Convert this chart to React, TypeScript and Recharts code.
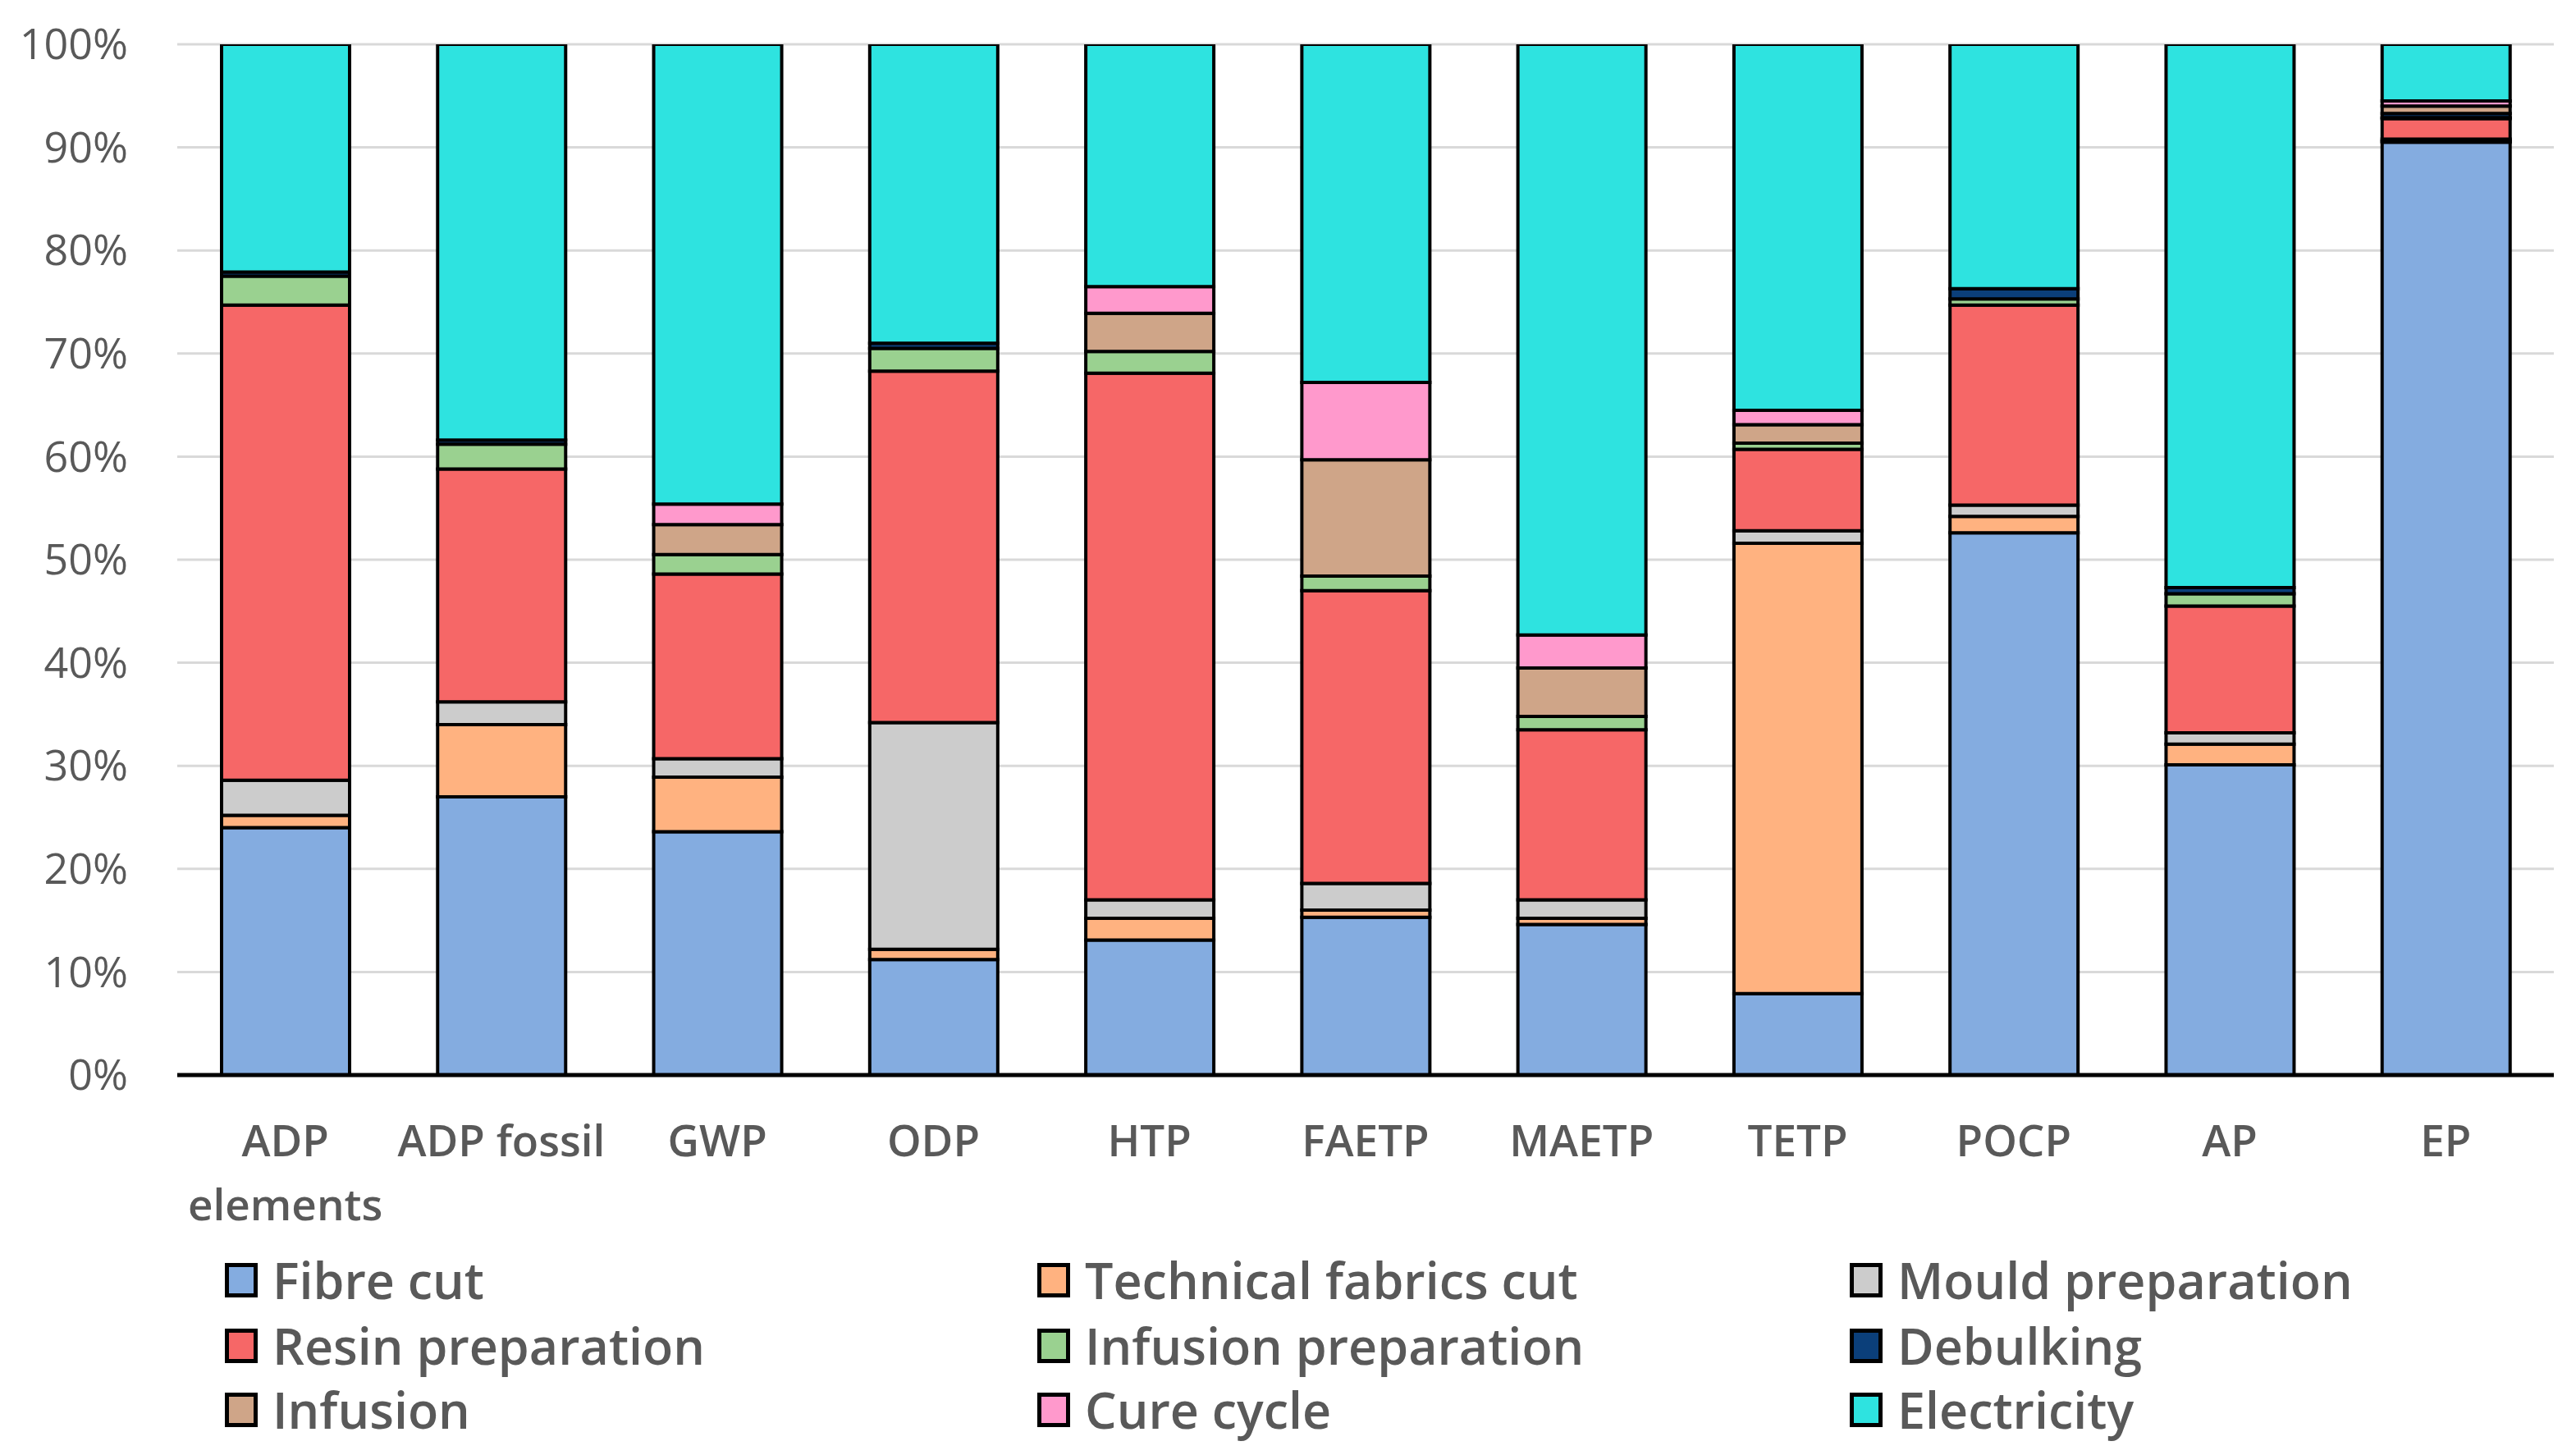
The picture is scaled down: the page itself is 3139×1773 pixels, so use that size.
import React from 'react';
import { BarChart, Bar, XAxis, YAxis, CartesianGrid, Legend } from 'recharts';

const categories = ['ADP elements', 'ADP fossil', 'GWP', 'ODP', 'HTP', 'FAETP', 'MAETP', 'TETP', 'POCP', 'AP', 'EP'];
const fibreCut = [24.0, 27.0, 23.6, 11.2, 13.1, 15.3, 14.6, 7.9, 52.6, 30.1, 90.5];
const technicalFabricsCut = [1.2, 7.0, 5.3, 1.0, 2.1, 0.7, 0.6, 43.7, 1.6, 2.0, 0.1];
const mouldPreparation = [3.4, 2.2, 1.8, 22.0, 1.8, 2.6, 1.8, 1.2, 1.1, 1.1, 0.2];
const resinPreparation = [46.1, 22.6, 17.9, 34.1, 51.1, 28.4, 16.5, 7.9, 19.4, 12.3, 2.0];
const infusionPreparation = [2.8, 2.4, 1.9, 2.2, 2.1, 1.4, 1.3, 0.6, 0.6, 1.2, 0.1];
const debulking = [0.4, 0.4, 0, 0.5, 0, 0, 0, 0, 1.0, 0.6, 0.4];
const infusion = [0, 0, 2.9, 0, 3.7, 11.3, 4.7, 1.8, 0, 0, 0.7];
const cureCycle = [0, 0, 2.0, 0, 2.6, 7.5, 3.2, 1.4, 0, 0, 0.5];
const electricity = [22.1, 38.4, 44.6, 29.0, 23.5, 32.8, 57.3, 35.5, 23.7, 52.7, 5.5];

const yTicks = [0, 10, 20, 30, 40, 50, 60, 70, 80, 90, 100];

const series = [
  { key: 'fibreCut', name: 'Fibre cut', color: '#84ACE0', values: fibreCut },
  { key: 'technicalFabricsCut', name: 'Technical fabrics cut', color: '#FFB280', values: technicalFabricsCut },
  { key: 'mouldPreparation', name: 'Mould preparation', color: '#CCCCCC', values: mouldPreparation },
  { key: 'resinPreparation', name: 'Resin preparation', color: '#F66767', values: resinPreparation },
  { key: 'infusionPreparation', name: 'Infusion preparation', color: '#9AD190', values: infusionPreparation },
  { key: 'debulking', name: 'Debulking', color: '#0B3F7A', values: debulking },
  { key: 'infusion', name: 'Infusion', color: '#CFA588', values: infusion },
  { key: 'cureCycle', name: 'Cure cycle', color: '#FF99CC', values: cureCycle },
  { key: 'electricity', name: 'Electricity', color: '#2EE3E0', values: electricity },
];

const data = categories.map((name, i) => {
  const row: Record<string, any> = { name };
  series.forEach((s) => {
    row[s.key] = s.values[i];
  });
  return row;
});

const FONT = '"Open Sans", "Noto Sans", sans-serif';
const TEXT_COLOR = '#595959';

const XTick = (props: any) => {
  const { x, y, payload } = props;
  const label: string = payload.value;
  const lines = label.length > 10 ? label.split(' ') : [label];
  return (
    <g>
      {lines.map((l, i) => (
        <text
          key={i}
          x={x}
          y={y + 80 + i * 78}
          dy="0.35em"
          textAnchor="middle"
          fill={TEXT_COLOR}
          fontSize={53}
          fontWeight={600}
          fontFamily={FONT}
        >
          {l}
        </text>
      ))}
    </g>
  );
};

const YTick = (props: any) => {
  const { x, y, payload } = props;
  return (
    <text
      x={x - 60}
      y={y}
      dy="0.35em"
      textAnchor="end"
      fill={TEXT_COLOR}
      fontSize={52}
      fontWeight={500}
      fontFamily={FONT}
    >
      {`${payload.value}%`}
    </text>
  );
};

const LegendContent = () => {
  const rowCenters = [50, 130, 208];
  return (
    <div style={{ position: 'relative', width: 3139, height: 260 }}>
      {series.map((s, i) => {
        const col = i % 3;
        const row = Math.floor(i / 3);
        return (
          <div
            key={s.key}
            style={{
              position: 'absolute',
              left: 274 + col * 990,
              top: rowCenters[row] - 35,
              height: 70,
              display: 'flex',
              alignItems: 'center',
              whiteSpace: 'nowrap',
            }}
          >
            <div
              style={{
                width: 40,
                height: 42,
                boxSizing: 'border-box',
                border: '5px solid #000',
                background: s.color,
                marginRight: 18,
              }}
            />
            <span
              style={{
                fontFamily: FONT,
                fontSize: 61,
                fontWeight: 600,
                color: TEXT_COLOR,
                lineHeight: '70px',
              }}
            >
              {s.name}
            </span>
          </div>
        );
      })}
    </div>
  );
};

export default function App() {
  return (
    <div style={{ position: 'absolute', left: 0, top: 0, width: 3139, height: 1773, background: '#fff' }}>
      <BarChart
        width={3139}
        height={1773}
        data={data}
        margin={{ top: 54, right: 27, left: 0, bottom: 433 }}
        barSize={156}
      >
        <CartesianGrid horizontal vertical={false} stroke="#D9D9D9" strokeWidth={3} />
        <XAxis
          dataKey="name"
          interval={0}
          height={30}
          tickLine={false}
          tickSize={0}
          tickMargin={0}
          axisLine={{ stroke: '#000', strokeWidth: 5 }}
          tick={<XTick />}
        />
        <YAxis
          domain={[0, 100]}
          ticks={yTicks}
          width={216}
          axisLine={false}
          tickLine={false}
          tickSize={0}
          tickMargin={0}
          tick={<YTick />}
          allowDataOverflow
        />
        <Legend
          layout="horizontal"
          verticalAlign="middle"
          align="center"
          wrapperStyle={{ position: 'absolute', left: 0, top: 1510, width: 3139, height: 260 }}
          content={<LegendContent />}
        />
        {series.map((s) => (
          <Bar
            key={s.key}
            dataKey={s.key}
            name={s.name}
            stackId="a"
            fill={s.color}
            stroke="#000"
            strokeWidth={4}
            isAnimationActive={false}
          />
        ))}
      </BarChart>
    </div>
  );
}
